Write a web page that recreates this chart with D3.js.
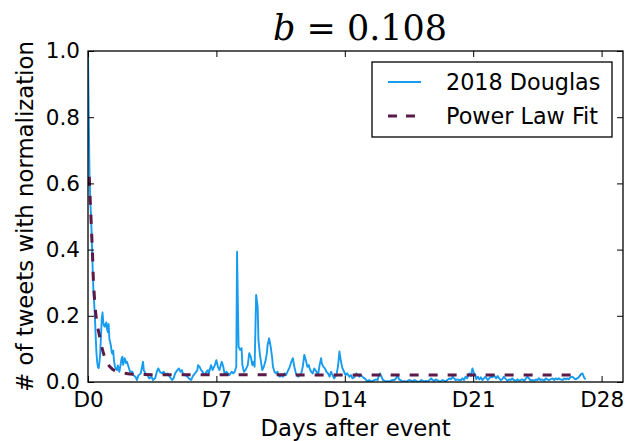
<!DOCTYPE html>
<html>
<head>
<meta charset="utf-8">
<script src="https://cdn.jsdelivr.net/npm/d3@7"></script>
<style>
  body { margin: 0; background: #fff; }
  text { font-family: "DejaVu Sans", sans-serif; fill: #000; }
</style>
</head>
<body>
<svg id="chart" width="626" height="441"></svg>
<script>
// hours after event -> normalized tweet count
const douglas = [
  [0,1.0],[1,0.8],[2,0.62],[3,0.55],[4,0.5],[5,0.43],[6,0.35],[7,0.28],[8,0.24],[9,0.2],[10,0.14],
  [11,0.09],[12,0.06],[13,0.045],[14,0.042],[15,0.06],[16,0.088],[17,0.14],[18,0.19],[19,0.21],[20,0.18],
  [21,0.17],[22,0.167],[23,0.175],[24,0.18],[25,0.16],[26,0.15],[27,0.175],[28,0.13],[29,0.12],[30,0.11],
  [31,0.09],[32,0.085],[33,0.095],[34,0.065],[35,0.05],[36,0.042],[38,0.036],[39,0.05],[41,0.031],[43,0.057],
  [44,0.072],[45,0.076],[46,0.052],[48,0.072],[50,0.057],[51,0.061],[53,0.046],[55,0.031],[58,0.031],[59,0.021],
  [62,0.016],[64,0.006],[66,0.02],[69,0.026],[72,0.061],[73,0.036],[75,0.026],[78,0.021],[80,0.011],[83,0.016],
  [85,0.006],[88,0.012],[90,0.031],[92,0.041],[94,0.031],[97,0.026],[99,0.031],[102,0.021],[104,0.026],[107,0.016],
  [110,0.006],[112,0.011],[114,0.026],[117,0.036],[119,0.041],[121,0.031],[123,0.036],[124,0.026],[127,0.021],[130,0.016],
  [132,0.011],[135,0.006],[137,0.017],[140,0.026],[143,0.036],[144,0.051],[146,0.046],[148,0.036],[150,0.031],[151,0.026],
  [153,0.021],[155,0.031],[157,0.036],[158,0.026],[161,0.051],[163,0.036],[166,0.051],[168,0.066],[170,0.046],[172,0.036],
  [175,0.061],[177,0.046],[179,0.021],[181,0.031],[183,0.026],[185,0.021],[188,0.031],[190,0.026],[192,0.031],[194,0.046],
  [195,0.394],[197,0.107],[199,0.097],[201,0.102],[202,0.051],[204,0.031],[206,0.036],[208,0.046],[209,0.051],[211,0.087],
  [213,0.076],[215,0.051],[216,0.061],[218,0.046],[220,0.263],[222,0.227],[223,0.127],[225,0.082],[227,0.051],[228,0.036],
  [230,0.046],[232,0.061],[234,0.087],[235,0.112],[237,0.132],[239,0.107],[241,0.072],[242,0.046],[244,0.031],[246,0.026],
  [248,0.031],[249,0.021],[251,0.016],[253,0.021],[255,0.016],[257,0.026],[259,0.021],[262,0.036],[264,0.046],[266,0.061],
  [268,0.072],[270,0.046],[272,0.026],[275,0.016],[277,0.021],[279,0.026],[281,0.046],[283,0.082],[285,0.066],[287,0.046],
  [289,0.051],[290,0.041],[292,0.031],[294,0.026],[296,0.041],[299,0.031],[301,0.021],[303,0.051],[305,0.072],[306,0.056],
  [308,0.046],[310,0.041],[312,0.031],[314,0.026],[316,0.016],[318,0.031],[320,0.021],[322,0.011],[325,0.021],[327,0.046],
  [329,0.092],[331,0.061],[333,0.041],[335,0.031],[337,0.021],[339,0.026],[342,0.016],[344,0.021],[346,0.011],[349,0.016],
  [351,0.026],[353,0.021],[355,0.016],[357,0.021],[359,0.016],[362,0.011],[364,0.006],[366,0.001],[368,0.006],[370,0.001],
  [373,0.004],[375,0.006],[377,0.008],[379,0.006],[380,0.016],[382,0.026],[384,0.016],[386,0.006],[388,0.004],[390,0.001],
  [392,0.003],[394,0.001],[396,0.004],[399,0.006],[401,0.006],[403,0.011],[405,0.021],[407,0.008],[410,0.004],[412,0.001],
  [414,0.003],[416,0.001],[418,0.003],[420,0.006],[423,0.004],[425,0.001],[427,0.006],[429,0.004],[431,0.001],[434,0.001],
  [436,0.006],[438,0.004],[440,0.001],[442,0.004],[444,0.001],[447,0.006],[449,0.011],[451,0.006],[453,0.003],[455,0.008],
  [457,0.006],[460,0.001],[462,0.003],[464,0.006],[466,0.004],[468,0.001],[470,0.006],[473,0.011],[475,0.008],[477,0.016],
  [479,0.011],[481,0.006],[483,0.008],[486,0.006],[488,0.006],[490,0.011],[492,0.006],[494,0.016],[496,0.011],[499,0.026],
  [501,0.018],[503,0.041],[505,0.026],[507,0.021],[508,0.008],[510,0.016],[512,0.008],[514,0.014],[516,0.006],[518,0.011],
  [520,0.016],[523,0.006],[525,0.011],[527,0.016],[529,0.014],[531,0.021],[534,0.011],[536,0.018],[538,0.011],[540,0.006],
  [542,0.008],[544,0.016],[547,0.008],[549,0.004],[551,0.008],[553,0.006],[555,0.011],[557,0.006],[560,0.004],[562,0.008],
  [564,0.004],[566,0.006],[568,0.008],[571,0.004],[573,0.011],[575,0.016],[577,0.011],[579,0.004],[581,0.006],[584,0.004],
  [586,0.008],[588,0.006],[590,0.011],[592,0.006],[594,0.008],[597,0.004],[599,0.011],[601,0.008],[603,0.006],[605,0.008],
  [608,0.011],[610,0.006],[612,0.011],[614,0.008],[616,0.011],[618,0.008],[621,0.006],[623,0.011],[625,0.008],[627,0.011],
  [629,0.008],[631,0.014],[634,0.016],[636,0.011],[638,0.008],[640,0.011],[642,0.014],[644,0.021],[647,0.026],[649,0.014],
  [651,0.008]
];

// power law fit
const fitPoints = [
  [1.7,0.62],[2,0.6],[4,0.49],[6,0.38],[7,0.31],[8,0.27],[10,0.21],[12,0.175],[15,0.14],[19,0.097],
  [23,0.068],[30,0.043],[39,0.031],[50,0.026],[67,0.023],[100,0.022],[645,0.021]
];

const xTickHours = [0, 168, 336, 504, 672];
const xTickLabels = ["D0", "D7", "D14", "D21", "D28"];
const yTicks = [0, 0.2, 0.4, 0.6, 0.8, 1.0];

const W = 626, H = 441;
const m = { left: 88, top: 51, right: 3, bottom: 59 };
const iw = W - m.left - m.right, ih = H - m.top - m.bottom;
const blue = "#189cf0", plum = "#5c1a48";

const svg = d3.select("#chart");
svg.append("rect").attr("width", W).attr("height", H).attr("fill", "#fff");

const x = d3.scaleLinear().domain([0, 700]).range([m.left, m.left + iw]);
const y = d3.scaleLinear().domain([0, 1]).range([m.top + ih, m.top]);

svg.append("clipPath").attr("id", "clip")
  .append("rect").attr("x", m.left).attr("y", m.top - 1).attr("width", iw).attr("height", ih + 1);

const plot = svg.append("g").attr("clip-path", "url(#clip)");

plot.append("path")
  .datum(douglas)
  .attr("fill", "none")
  .attr("stroke", blue)
  .attr("stroke-width", 1.9)
  .attr("stroke-linejoin", "round")
  .attr("d", d3.line().x(d => x(d[0])).y(d => y(d[1])));

plot.append("path")
  .datum(fitPoints)
  .attr("fill", "none")
  .attr("stroke", plum)
  .attr("stroke-width", 3)
  .attr("stroke-dasharray", "9,10")
  .attr("d", d3.line().curve(d3.curveMonotoneX).x(d => x(d[0])).y(d => y(d[1])));

// axes, ticks pointing inward like matplotlib classic
const fmtX = d => xTickLabels[xTickHours.indexOf(d)];
const gx = svg.append("g").attr("transform", `translate(0,${m.top + ih})`)
  .call(d3.axisBottom(x).tickValues(xTickHours).tickFormat(fmtX).tickSizeInner(-6).tickSizeOuter(0).tickPadding(10));
const gxTop = svg.append("g").attr("transform", `translate(0,${m.top})`)
  .call(d3.axisTop(x).tickValues(xTickHours).tickFormat("").tickSizeInner(-6).tickSizeOuter(0));
const gy = svg.append("g").attr("transform", `translate(${m.left},0)`)
  .call(d3.axisLeft(y).tickValues(yTicks).tickFormat(d3.format(".1f")).tickSizeInner(-6).tickSizeOuter(0).tickPadding(8));
const gyRight = svg.append("g").attr("transform", `translate(${m.left + iw},0)`)
  .call(d3.axisRight(y).tickValues(yTicks).tickFormat("").tickSizeInner(-6).tickSizeOuter(0));

[gx, gxTop, gy, gyRight].forEach(g => {
  g.select(".domain").remove();
  g.selectAll("line").attr("stroke", "#000").attr("stroke-width", 1);
  g.selectAll("text").attr("font-size", 21.5).attr("font-family", "DejaVu Sans").attr("fill", "#000");
});

svg.append("rect")
  .attr("x", m.left).attr("y", m.top).attr("width", iw).attr("height", ih)
  .attr("fill", "none").attr("stroke", "#000").attr("stroke-width", 1.3);

// labels
svg.append("text")
  .attr("x", m.left + iw / 2).attr("y", 436)
  .attr("text-anchor", "middle").attr("font-size", 22.8)
  .text("Days after event");

svg.append("text")
  .attr("transform", `translate(33,${m.top + ih / 2}) rotate(-90)`)
  .attr("text-anchor", "middle").attr("font-size", 22.8)
  .text("# of tweets with normalization");

const title = svg.append("text")
  .attr("x", 360).attr("y", 40)
  .attr("text-anchor", "middle")
  .attr("font-size", 35)
  .style("font-family", "'DejaVu Serif', serif");
title.append("tspan").attr("font-style", "italic").text("b");
title.append("tspan").text(" = 0.108");

// legend
const legendItems = [
  { name: "2018 Douglas", color: blue, width: 1.9, dash: null },
  { name: "Power Law Fit", color: plum, width: 3, dash: "9,9" }
];
const lg = svg.append("g");
lg.append("rect")
  .attr("x", 372).attr("y", 62).attr("width", 240).attr("height", 75)
  .attr("fill", "#fff").attr("stroke", "#000").attr("stroke-width", 1.3);
legendItems.forEach((it, i) => {
  const cy = 82 + i * 34;
  lg.append("line")
    .attr("x1", 388).attr("x2", 421).attr("y1", cy).attr("y2", cy)
    .attr("stroke", it.color).attr("stroke-width", it.width)
    .attr("stroke-dasharray", it.dash);
  lg.append("text")
    .attr("x", 446).attr("y", cy + 8)
    .attr("font-size", 22.3)
    .text(it.name);
});
</script>
</body>
</html>
